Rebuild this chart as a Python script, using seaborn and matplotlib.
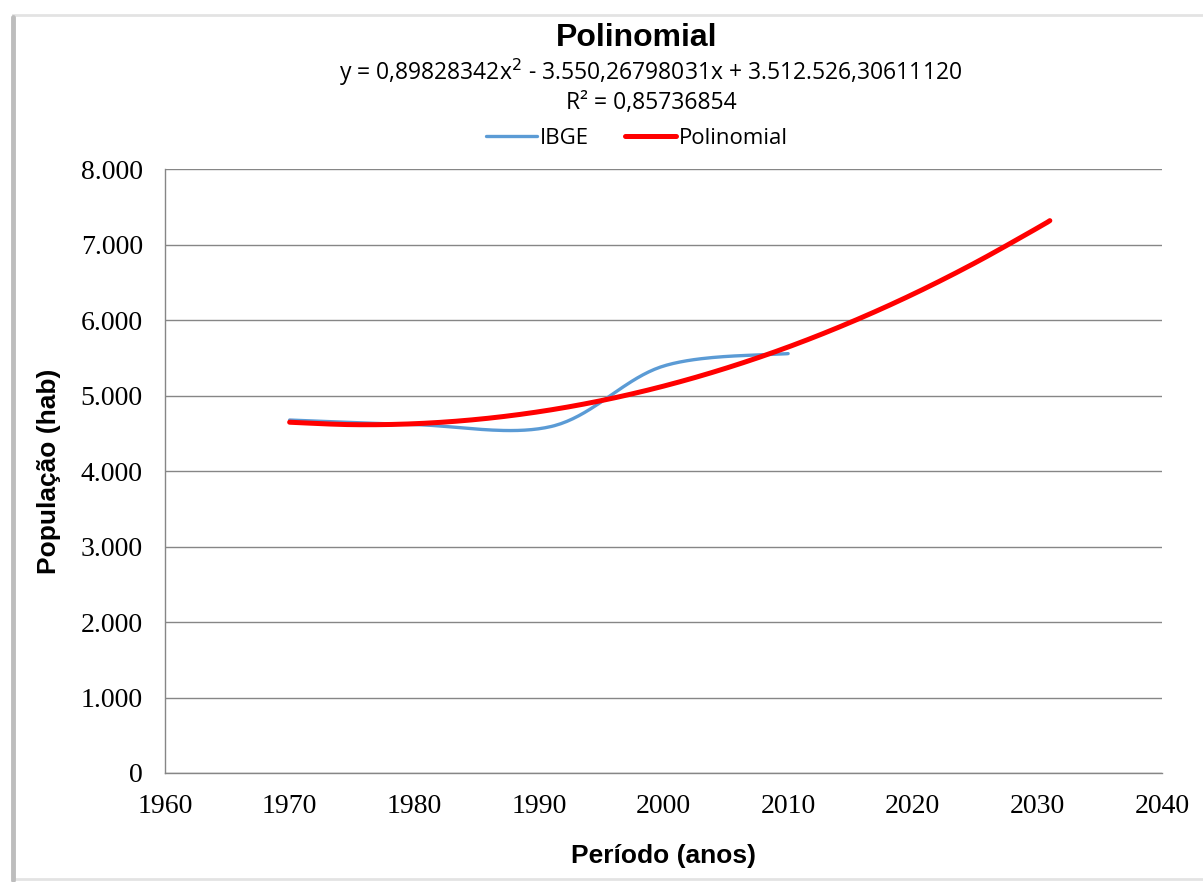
import numpy as np
import pandas as pd
import matplotlib
matplotlib.use("Agg")
import matplotlib.pyplot as plt
from matplotlib.patches import Rectangle
from matplotlib.lines import Line2D
from matplotlib.ticker import FuncFormatter
import seaborn as sns

# ---- data ----
ibge_years = [1970, 1980, 1991, 2000, 2010]
ibge_pop = [4675, 4615, 4590, 5390, 5555]

poly_years = [1970, 1975, 1980, 1985, 1990, 1995, 2000, 2005, 2010, 2015, 2020, 2025, 2030, 2031]
poly_pop = [4646, 4614, 4626, 4683, 4785, 4932, 5124, 5361, 5642, 5969, 6340, 6757, 7218, 7316]

x_ticks = [1960, 1970, 1980, 1990, 2000, 2010, 2020, 2030, 2040]
y_ticks = [0, 1000, 2000, 3000, 4000, 5000, 6000, 7000, 8000]

title = "Polinomial"
equation = "y = 0,89828342x$^2$ - 3.550,26798031x + 3.512.526,30611120"
r2_text = "R² = 0,85736854"


def smooth(xs, ys, steps=40):
    """Excel-like smoothed line rendering (Catmull-Rom as cubic Bezier)."""
    P = np.column_stack([xs, ys]).astype(float)
    n = len(P)
    out = [P[0]]
    for i in range(n - 1):
        p0 = P[i - 1] if i > 0 else P[i]
        p1 = P[i]
        p2 = P[i + 1]
        p3 = P[i + 2] if i + 2 < n else P[i + 1]
        b1 = p1 + (p2 - p0) / 6.0
        b2 = p2 - (p3 - p1) / 6.0
        t = np.linspace(0, 1, steps)[1:, None]
        seg = ((1 - t) ** 3) * p1 + 3 * ((1 - t) ** 2) * t * b1 + 3 * (1 - t) * t ** 2 * b2 + t ** 3 * p2
        out.extend(seg)
    out = np.array(out)
    return out[:, 0], out[:, 1]


sns.set_style("white")
plt.rcParams["font.family"] = ["DejaVu Sans"]
plt.rcParams["text.color"] = "black"
plt.rcParams["axes.labelcolor"] = "black"
plt.rcParams["xtick.color"] = "black"
plt.rcParams["ytick.color"] = "black"

fig = plt.figure(figsize=(12.03, 8.82), dpi=100)
ax = fig.add_axes([165 / 1203, 1 - 773 / 882, (1162 - 165) / 1203, (773 - 169) / 882])

bx, by = smooth(ibge_years, ibge_pop)
rx, ry = smooth(poly_years, poly_pop)
df_b = pd.DataFrame({"Ano": bx, "Pop": by})
df_r = pd.DataFrame({"Ano": rx, "Pop": ry})

sns.lineplot(data=df_b, x="Ano", y="Pop", color="#5B9BD5", linewidth=2.4, ax=ax,
             label="IBGE", sort=False, estimator=None)
sns.lineplot(data=df_r, x="Ano", y="Pop", color="#FF0000", linewidth=3.6, ax=ax,
             label="Polinomial", sort=False, estimator=None, solid_capstyle="round")

ax.set_xlim(1960, 2040)
ax.set_ylim(0, 8000)
ax.set_xticks(x_ticks)
ax.set_yticks(y_ticks)
ax.yaxis.set_major_formatter(FuncFormatter(lambda v, p: f"{int(v):,}".replace(",", ".")))
ax.grid(axis="y", color="#868686", linewidth=1.0)
ax.grid(axis="x", visible=False)
for s in ["top", "right"]:
    ax.spines[s].set_visible(False)
for s in ["left", "bottom"]:
    ax.spines[s].set_color("#868686")
    ax.spines[s].set_linewidth(1.0)
ax.tick_params(axis="both", direction="out", length=5, width=1, color="#868686",
               labelcolor="black", labelsize=20)
ax.tick_params(axis="y", pad=11)
ax.tick_params(axis="x", pad=10)
for lab in ax.get_xticklabels() + ax.get_yticklabels():
    lab.set_fontfamily("Liberation Serif")

ax.set_xlabel("Período (anos)", fontsize=19, fontweight="bold", family="Liberation Sans",
              labelpad=18, color="black")
ax.set_ylabel("População (hab)", fontsize=19, fontweight="bold", family="Liberation Sans",
              labelpad=14, color="black")

# titles
fig.text(637 / 1203, 1 - 38 / 882, title, ha="center", va="center", fontsize=23,
         fontweight="bold", family="Liberation Sans", color="black")
fig.text(651 / 1203, 1 - 72 / 882, equation, ha="center", va="center", fontsize=16.5,
         family="Open Sans", color="black")
fig.text(651 / 1203, 1 - 103 / 882, r2_text, ha="center", va="center", fontsize=16.5,
         family="Open Sans", color="black")

leg = ax.legend(loc="center", bbox_to_anchor=(637 / 1203, 1 - 138 / 882),
                bbox_transform=fig.transFigure, ncol=2, frameon=False,
                handlelength=2.3, columnspacing=1.6, handletextpad=0.15,
                prop={"family": "Open Sans", "size": 16})
for t in leg.get_texts():
    t.set_color("black")

# chart-area frame (light top/bottom, shadowed left edge)
fig.patches.append(Rectangle((13 / 1203, 1 - 879 / 882), 1.2, (879 - 15) / 882,
                             transform=fig.transFigure, fill=False,
                             edgecolor="#E3E3E3", linewidth=2.0, zorder=0))
fig.lines.append(Line2D([13 / 1203, 13 / 1203], [1 - 880 / 882, 1 - 17 / 882],
                        transform=fig.transFigure, color="#BDBDBD", linewidth=3.5))

fig.savefig("out.png", dpi=100)
